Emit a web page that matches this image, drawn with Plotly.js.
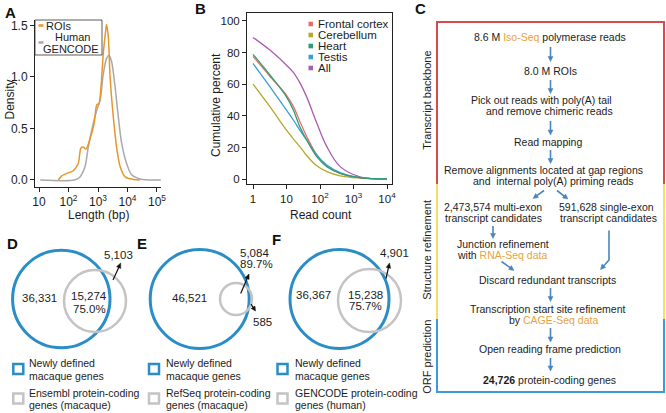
<!DOCTYPE html>
<html><head><meta charset="utf-8">
<script src="https://cdn.plot.ly/plotly-3.0.1.min.js"></script>
<style>html,body{margin:0;padding:0;background:#fff}</style>
</head><body><div id="chart" style="width:666px;height:413px"></div>
<script>
// ---------- Panel A: length density ----------
const lengthROI = [45, 59, 87, 145, 214, 263, 316, 389, 537, 741, 912, 1072, 1259, 1514, 1820, 1950, 2239, 2570, 3311, 4266, 5623, 8318, 15849, 26303];
const densityROI = [0, 0.04, 0.064, 0.09, 0.16, 0.31, 0.32, 0.30, 0.40, 0.55, 0.73, 0.74, 0.90, 1.23, 1.45, 1.51, 1.39, 1.0, 0.61, 0.32, 0.13, 0.03, 0.005, 0];
const lengthGENCODE = [11, 158, 245, 363, 468, 692, 912, 1175, 1514, 1950, 2344, 2884, 3802, 4898, 6310, 9333, 13804, 26303, 50000, 135000];
const densityGENCODE = [0, 0, 0.03, 0.13, 0.32, 0.55, 0.68, 0.77, 1.03, 1.18, 1.21, 1.15, 0.90, 0.61, 0.36, 0.16, 0.05, 0.01, 0, 0];
const seriesA = ['ROIs', 'Human GENCODE'];
const tickValsA = [10, 100, 1000, 10000, 100000];
const tickTextA = ['10', '10<sup>2</sup>', '10<sup>3</sup>', '10<sup>4</sup>', '10<sup>5</sup>'];
const yTickValsA = [0, 0.5, 1, 1.5];
const yTickTextA = ['0.0', '0.5', '1.0', '1.5'];

// ---------- Panel B: cumulative percent ----------
const readCount = [1, 3.2, 10, 16, 25, 40, 80, 160, 400, 1550, 10000];
const tissues = ['Frontal cortex', 'Cerebellum', 'Heart', 'Testis', 'All'];
const cumFrontal = [77.5, 65, 53, 46, 36.5, 27, 15.5, 8.3, 3.8, 1.0, 0.1];
const cumCerebellum = [60.1, 45.8, 31, 25.5, 20.6, 15, 8.5, 4.8, 2.2, 0.8, 0.1];
const cumHeart = [78.8, 65.8, 52, 43.7, 33.2, 24.8, 14.3, 7.9, 3.8, 1.0, 0.1];
const cumTestis = [73.1, 58.4, 43.7, 37.4, 31, 24.8, 15.3, 9, 4.2, 1.0, 0.1];
const cumAll = [89.5, 81.5, 72, 67.5, 61, 52, 35.5, 20.6, 8, 1.6, 0.3];
const tickValsB = [1, 10, 100, 1000, 10000];
const tickTextB = ['1', '10', '10<sup>2</sup>', '10<sup>3</sup>', '10<sup>4</sup>'];
const yTickValsB = [0, 20, 40, 60, 80, 100];

// ---------- Panels D-F: gene overlaps ----------
const vennPanels = ['D', 'E', 'F'];
const newlyOnly = [36331, 46521, 36367];
const overlapCount = [15274, 5084, 15238];
const overlapPct = ['75.0%', '89.7%', '75.7%'];
const referenceOnly = [5103, 585, 4901];
const referenceName = ['Ensembl protein-coding', 'RefSeq protein-coding', 'GENCODE protein-coding'];
const referenceSpecies = ['genes (macaque)', 'genes (macaque)', 'genes (human)'];

// ---------- Panel C: pipeline text ----------
const ORANGE_T = '#E9A23B';
const o = s => '<span style="color:' + ORANGE_T + '">' + s + '</span>';
const pipeline = [
  ['8.6 M ' + o('Iso-Seq') + ' polymerase reads', 550, 37],
  ['8.0 M ROIs', 550, 71],
  ['Pick out reads with poly(A) tail', 541, 100],
  ['and remove chimeric reads', 549, 111],
  ['Read mapping', 548, 141.5],
  ['Remove alignments located at gap regions', 543.5, 170],
  ['and  internal poly(A) priming reads', 553, 180.5],
  ['2,473,574 multi-exon', 492.5, 207],
  ['transcript candidates', 493.5, 218],
  ['591,628 single-exon', 606, 207],
  ['transcript candidates', 608, 218],
  ['Discard redundant transcripts', 547, 279.5],
  ['Transcription start site refinement', 548, 309],
  ['by ' + o('CAGE-Seq data'), 553, 320],
  ['Open reading frame prediction', 550, 348.5],
  ['<b>24,726</b> protein-coding genes', 549, 380]
];
const pipelineLeft = [
  ['Junction refinement', 456, 244],
  ['with ' + o('RNA-Seq data'), 456, 254.5]
];
const stages = [['Transcript backbone', 100], ['Structure refinement', 250], ['ORF prediction', 357]];

// ---------- helpers ----------
const W = 666, H = 413;
const FONT = 'Liberation Sans, Arial, sans-serif';
const TXT = '#1c1c1c';
const X = p => p / W, Y = p => 1 - p / H;
const annotations = [], shapes = [];
function txt(t, x, y, opt) {
  opt = opt || {};
  annotations.push({
    text: t, x: X(x), y: Y(y), xref: 'paper', yref: 'paper', showarrow: false,
    xanchor: opt.xanchor || 'center', yanchor: 'middle', textangle: opt.angle || 0,
    align: opt.align || 'center', borderpad: 0,
    font: { family: FONT, size: opt.size || 11, color: opt.color || TXT, weight: opt.weight || 'normal' }
  });
}
function seg(x0, y0, x1, y1, color, w) {
  shapes.push({ type: 'line', xref: 'paper', yref: 'paper', x0: X(x0), y0: Y(y0), x1: X(x1), y1: Y(y1), line: { color: color, width: w } });
}
function arrow(x0, y0, x1, y1, color, w, hl, hw) {
  hl = hl || 5; hw = hw || 5;
  const dx = x1 - x0, dy = y1 - y0, L = Math.hypot(dx, dy), ux = dx / L, uy = dy / L;
  const bx = x1 - ux * hl, by = y1 - uy * hl;
  seg(x0, y0, bx + ux * 1, by + uy * 1, color, w);
  const qx = -uy * hw / 2, qy = ux * hw / 2;
  shapes.push({ type: 'path', xref: 'paper', yref: 'paper',
    path: 'M ' + X(x1) + ' ' + Y(y1) + ' L ' + X(bx + qx) + ' ' + Y(by + qy) + ' L ' + X(bx - qx) + ' ' + Y(by - qy) + ' Z',
    fillcolor: color, line: { color: color, width: 0.5 } });
}
function circ(cx, cy, r, color, w) {
  shapes.push({ type: 'circle', xref: 'paper', yref: 'paper', x0: X(cx - r), x1: X(cx + r), y0: Y(cy + r), y1: Y(cy - r), line: { color: color, width: w }, fillcolor: 'rgba(0,0,0,0)' });
}
function rect(x0, y0, x1, y1, color, w, fill) {
  shapes.push({ type: 'rect', xref: 'paper', yref: 'paper', x0: X(x0), x1: X(x1), y0: Y(y1), y1: Y(y0), line: { color: color, width: w }, fillcolor: fill || 'rgba(0,0,0,0)' });
}

// ---------- colours ----------
const cROI = '#E8962C', cGEN = '#A9A9A9';
const tissueColors = ['#E66F6A', '#B3AA2C', '#2E9E72', '#3A9ED7', '#A95CB0'];
const cVennBlue = '#2A8DC6', cVennGray = '#C4C4C4';
const cArrow = '#4A86B9';

// ---------- traces ----------
const traces = [];
traces.push({ x: lengthGENCODE, y: densityGENCODE, name: seriesA[1], mode: 'lines', line: { color: cGEN, width: 1.5, shape: 'spline', smoothing: 0.8 }, xaxis: 'x', yaxis: 'y', hoverinfo: 'skip' });
traces.push({ x: lengthROI, y: densityROI, name: seriesA[0], mode: 'lines', line: { color: cROI, width: 1.5, shape: 'spline', smoothing: 0.8 }, xaxis: 'x', yaxis: 'y', hoverinfo: 'skip' });
const cumSeries = [cumFrontal, cumCerebellum, cumHeart, cumTestis, cumAll];
[0, 4, 1, 3, 2].forEach(i => {
  traces.push({ x: readCount, y: cumSeries[i], name: tissues[i], mode: 'lines', line: { color: tissueColors[i], width: 1.3, shape: 'spline', smoothing: 1 }, xaxis: 'x2', yaxis: 'y2', hoverinfo: 'skip' });
});

// ---------- panel letters ----------
[['A', 10.5, 12.5], ['B', 200.5, 8.5], ['C', 420, 8.5], ['D', 12.5, 243], ['E', 141.5, 243], ['F', 276.5, 240]].forEach(l => txt(l[0], l[1], l[2], { size: 15, weight: 'bold', color: '#111' }));

// ---------- panel A extras ----------
txt('Density', 9.5, 100, { angle: -90, size: 12 });
txt('Length (bp)', 98.5, 214.5, { size: 12 });
rect(35, 20, 102, 55, '#333', 0.8);
seg(38.5, 25.5, 43.5, 25.5, cROI, 2.5);
seg(38.5, 42.5, 43.5, 42.5, cGEN, 2.5);
txt(seriesA[0], 45, 25.8, { xanchor: 'left', size: 11 });
txt('Human', 72, 37.5, { size: 11 });
txt('GENCODE', 71, 48.5, { size: 11 });

// ---------- panel B extras ----------
txt('Cumulative percent', 216.5, 104.5, { angle: -90, size: 12 });
txt('Read count', 320.5, 214.5, { size: 12 });
tissues.forEach((t, i) => {
  const yy = 24 + 11 * i;
  rect(308.5, yy - 2.3, 313, yy + 2.3, tissueColors[i], 0, tissueColors[i]);
  txt(t, 316.5, yy, { xanchor: 'left', size: 11.5 });
});

// ---------- panel C ----------
seg(437, 22, 664, 22, '#D84B4B', 2);
seg(437, 21, 437, 184, '#D84B4B', 2);
seg(664, 21, 664, 184, '#D84B4B', 2);
seg(437, 184, 437, 319, '#F2E06B', 2);
seg(664, 184, 664, 319, '#F2E06B', 2);
seg(437, 319, 437, 392, '#3D9AD8', 2);
seg(664, 319, 664, 392, '#3D9AD8', 2);
seg(436, 392, 665, 392, '#3D9AD8', 2);
stages.forEach(s => txt(s[0], 426.7, s[1], { angle: -90, size: 11 }));
pipeline.forEach(p => txt(p[0], p[1], p[2], { size: 10.5 }));
pipelineLeft.forEach(p => txt(p[0], p[1], p[2], { size: 10.5, xanchor: 'left' }));
[[550.5, 47, 550.5, 61.5], [550.5, 80, 550.5, 93.5], [550.5, 121, 550.5, 135], [550.5, 150, 550.5, 163.5],
 [544, 190.5, 533, 198.5], [557, 190.5, 568, 199], [493, 226, 493, 238.5], [501.5, 261.5, 514, 270.5],
 [609, 260, 600.5, 269.5], [550.5, 288, 550.5, 301.5], [550.5, 328, 550.5, 342], [550.5, 358, 550.5, 371]
].forEach(a => arrow(a[0], a[1], a[2], a[3], cArrow, 1.6, 5, 5));
seg(609, 230.5, 609, 260.5, cArrow, 1.6);

// ---------- panels D-F ----------
const fmt = n => n.toLocaleString('en-US');
// D
circ(61.3, 299, 48.7, cVennBlue, 3);
circ(95, 301, 31, cVennGray, 2.5);
txt(fmt(newlyOnly[0]), 39.5, 298, { size: 11.5 });
txt(fmt(overlapCount[0]), 89, 296, { size: 11.5 });
txt(overlapPct[0], 89, 309, { size: 11.5 });
txt(fmt(referenceOnly[0]), 118, 255, { size: 11.5 });
arrow(113, 280, 120.7, 263, '#111', 1.2, 5, 4.5);
// E
circ(199.7, 299, 49.5, cVennBlue, 3);
circ(236, 299, 16, cVennGray, 2.5);
txt(fmt(newlyOnly[1]), 189, 298, { size: 11.5 });
txt(fmt(overlapCount[1]), 254, 252.5, { size: 11.5 });
txt(overlapPct[1], 256, 263.5, { size: 11.5 });
txt(fmt(referenceOnly[1]), 262, 321.5, { size: 11.5 });
arrow(240.7, 293.5, 249, 274, '#111', 1.2, 5, 4.5);
arrow(251, 304, 255.5, 311, '#111', 1.2, 4.5, 4.5);
// F
circ(339.5, 299, 49.5, cVennBlue, 3);
circ(369.5, 300.5, 31.5, cVennGray, 2.5);
txt(fmt(newlyOnly[2]), 313, 295, { size: 11.5 });
txt(fmt(overlapCount[2]), 365, 294.5, { size: 11.5 });
txt(overlapPct[2], 365, 306, { size: 11.5 });
txt(fmt(referenceOnly[2]), 394, 252.5, { size: 11.5 });
arrow(386, 278.5, 389.5, 263, '#111', 1.2, 5, 4.5);
// legends
const legX = [18.3, 154, 282.5];
const legTextX = [28.3, 165, 294];
vennPanels.forEach((p, i) => {
  rect(legX[i] - 5, 364, legX[i] + 5, 374, cVennBlue, 2.5);
  rect(legX[i] - 5, 393.5, legX[i] + 5, 403.5, cVennGray, 2.5);
  txt('Newly defined', legTextX[i], 363, { xanchor: 'left', size: 10.5 });
  txt('macaque genes', legTextX[i], 375.5, { xanchor: 'left', size: 10.5 });
  txt(referenceName[i], legTextX[i], 392.5, { xanchor: 'left', size: 10.5 });
  txt(referenceSpecies[i], legTextX[i], 404.5, { xanchor: 'left', size: 10.5 });
});

// ---------- layout ----------
const axisBase = { showgrid: false, zeroline: false, showline: true, linecolor: '#222', linewidth: 1,
  ticks: 'outside', ticklen: 4, tickcolor: '#222', tickwidth: 1, fixedrange: true,
  tickfont: { family: FONT, size: 12, color: TXT } };
const layout = {
  width: W, height: H, margin: { l: 0, r: 0, t: 0, b: 0 }, paper_bgcolor: '#fff', plot_bgcolor: 'rgba(0,0,0,0)',
  showlegend: false, font: { family: FONT, color: TXT },
  xaxis: Object.assign({}, axisBase, { domain: [X(35), X(161)], type: 'log', range: [0.864, 5.136], tickmode: 'array', tickvals: tickValsA, ticktext: tickTextA, anchor: 'y' }),
  yaxis: Object.assign({}, axisBase, { domain: [Y(187), Y(20)], range: [-0.068, 1.553], tickmode: 'array', tickvals: yTickValsA, ticktext: yTickTextA, anchor: 'x' }),
  xaxis2: Object.assign({}, axisBase, { domain: [X(247), X(392)], type: 'log', range: [-0.179, 4.149], tickmode: 'array', tickvals: tickValsB, ticktext: tickTextB, anchor: 'y2', mirror: true, tickfont: { family: FONT, size: 11.5, color: TXT } }),
  yaxis2: Object.assign({}, axisBase, { domain: [Y(184), Y(13)], range: [-2.96, 104.9], tickmode: 'array', tickvals: yTickValsB, anchor: 'x2', mirror: true, tickfont: { family: FONT, size: 11.5, color: TXT } }),
  annotations: annotations, shapes: shapes
};
Plotly.newPlot('chart', traces, layout, { staticPlot: true, displayModeBar: false });
</script></body></html>
